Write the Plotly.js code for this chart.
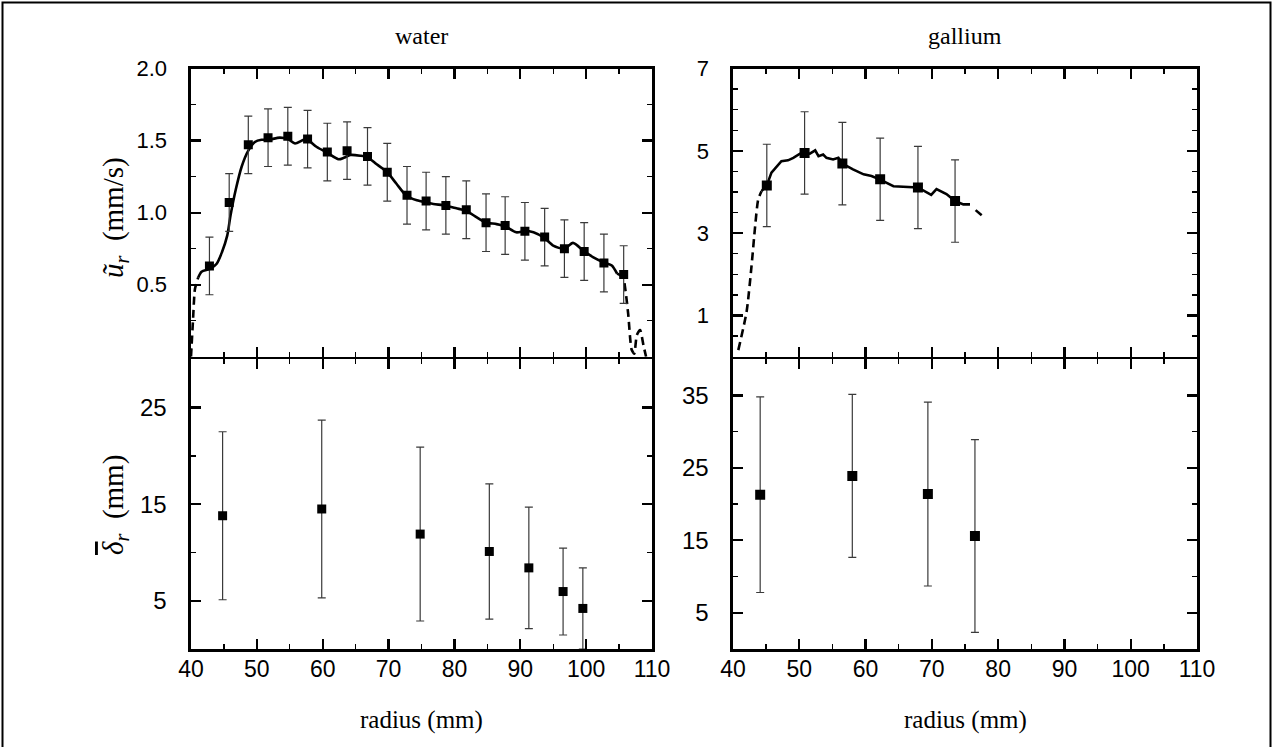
<!DOCTYPE html>
<html><head><meta charset="utf-8">
<script src="https://cdn.plot.ly/plotly-3.0.1.min.js"></script>
<style>html,body{margin:0;padding:0;background:#fff;}#chart{width:1273px;height:747px;}</style>
</head><body><div id="chart"></div>
<script>
// ---- water: radial velocity (top-left) ----
const waterUX = [42.8, 45.8, 48.7, 51.7, 54.7, 57.7, 60.7, 63.7, 66.8, 69.8, 72.8, 75.7, 78.7, 81.8, 84.8, 87.7, 90.7, 93.7, 96.7, 99.7, 102.7, 105.7];
const waterUY = [0.63, 1.07, 1.47, 1.52, 1.53, 1.51, 1.42, 1.43, 1.39, 1.28, 1.12, 1.08, 1.05, 1.02, 0.93, 0.91, 0.87, 0.83, 0.75, 0.73, 0.65, 0.57];
const waterUErr = [0.2, 0.2, 0.2, 0.2, 0.2, 0.2, 0.2, 0.2, 0.2, 0.2, 0.2, 0.2, 0.2, 0.2, 0.2, 0.2, 0.2, 0.2, 0.2, 0.2, 0.2, 0.2];
const waterLineX = [41.1, 41.6, 42.9, 43.9, 44.7, 45.5, 46.0, 46.8, 47.7, 48.7, 49.7, 50.7, 51.7, 53.5, 54.7, 55.8, 57.1, 57.7, 59.1, 60.7, 62.4, 63.2, 64.2, 65.7, 66.8, 68.2, 69.8, 71.2, 72.75, 74.3, 75.7, 76.8, 78.7, 80.3, 81.8, 83.4, 84.75, 86.4, 87.7, 89.4, 90.7, 92.0, 93.7, 95.0, 96.7, 98.0, 99.7, 101.1, 102.7, 103.9, 104.7];
const waterLineY = [0.55, 0.59, 0.61, 0.645, 0.725, 0.84, 0.98, 1.16, 1.32, 1.43, 1.49, 1.505, 1.505, 1.52, 1.51, 1.48, 1.505, 1.505, 1.455, 1.415, 1.37, 1.38, 1.40, 1.395, 1.385, 1.335, 1.28, 1.20, 1.115, 1.085, 1.07, 1.06, 1.048, 1.03, 1.012, 0.967, 0.932, 0.92, 0.905, 0.863, 0.872, 0.863, 0.822, 0.771, 0.748, 0.79, 0.731, 0.69, 0.654, 0.633, 0.576];
const waterDashLX = [40.0, 40.3, 40.6, 41.1];
const waterDashLY = [0.0, 0.25, 0.47, 0.55];
const waterDashRX = [104.7, 105.6, 106.0, 106.4, 106.9, 107.3, 107.7, 108.2, 108.7, 109.1];
const waterDashRY = [0.576, 0.55, 0.45, 0.29, 0.05, 0.02, 0.15, 0.185, 0.08, 0.0];

// ---- gallium: radial velocity (top-right) ----
const galUX = [45.1, 50.8, 56.5, 62.2, 67.9, 73.5];
const galUY = [4.16, 4.95, 4.69, 4.31, 4.11, 3.78];
const galUErr = [1.0, 1.0, 1.0, 1.0, 1.0, 1.0];
const galLineX = [44.3, 45.1, 45.8, 47.3, 48.3, 49.1, 50.1, 50.8, 51.6, 52.4, 52.9, 53.6, 54.1, 55.1, 55.9, 56.5, 58.1, 59.7, 60.9, 62.2, 64.2, 66.2, 67.9, 69.9, 70.7, 72.2, 73.5, 74.75, 75.75];
const galLineY = [4.02, 4.16, 4.47, 4.75, 4.77, 4.83, 4.93, 4.95, 4.93, 5.01, 4.87, 4.91, 4.83, 4.79, 4.83, 4.69, 4.55, 4.43, 4.39, 4.30, 4.14, 4.13, 4.11, 3.93, 4.07, 3.95, 3.78, 3.70, 3.70];
const galDashLX = [40.8, 42.05, 42.8, 43.3, 43.8, 44.3];
const galDashLY = [0.16, 1.09, 2.21, 3.1, 3.82, 4.02];
const galDashRX = [76.6, 77.9];
const galDashRY = [3.56, 3.38];

// ---- boundary layer thickness (bottom) ----
const waterDX = [44.8, 59.85, 74.8, 85.3, 91.3, 96.5, 99.5];
const waterDY = [13.8, 14.5, 11.9, 10.1, 8.4, 5.95, 4.2];
const waterDErr = [8.7, 9.2, 9.0, 7.0, 6.3, 4.5, 4.2];
const galDX = [44.1, 58.0, 69.4, 76.5];
const galDY = [21.3, 23.9, 21.4, 15.6];
const galDErr = [13.5, 11.25, 12.7, 13.3];

// ---- tick labels ----
const xTicks = [40, 50, 60, 70, 80, 90, 100, 110];
const xTickText = ['40', '50', '60', '70', '80', '90', '100', '110'];
const y1Ticks = [0.5, 1.0, 1.5, 2.0];
const y1TickText = ['0.5', '1.0', '1.5', '2.0'];
const y2Ticks = [1, 3, 5, 7];
const y2TickText = ['1', '3', '5', '7'];
const y2UnlabelledTicks = [2, 4, 6];
const y3Ticks = [5, 15, 25];
const y3TickText = ['5', '15', '25'];
const y4Ticks = [5, 15, 25, 35];
const y4TickText = ['5', '15', '25', '35'];

const W = 1273, H = 747;
const px = v => v / W;
const py = v => 1 - v / H;

const serif = 'Liberation Serif';
const sans = 'Liberation Sans';

function solid(x, y, xa, ya, spline) {
  return {x: x, y: y, xaxis: xa, yaxis: ya, mode: 'lines', type: 'scatter', hoverinfo: 'skip',
    line: {color: 'black', width: 2.6, shape: spline ? 'spline' : 'linear', smoothing: 0.7}};
}
function dashed(x, y, xa, ya) {
  return {x: x, y: y, xaxis: xa, yaxis: ya, mode: 'lines', type: 'scatter', hoverinfo: 'skip',
    line: {color: 'black', width: 2.6, dash: '8px,5px', shape: 'spline', smoothing: 0.6}};
}
function pts(x, y, e, xa, ya, sz) {
  return {x: x, y: y, xaxis: xa, yaxis: ya, mode: 'markers', type: 'scatter',
    marker: {symbol: 'square', color: 'black', size: sz},
    error_y: {type: 'data', array: e, visible: true, color: '#3a3a3a', thickness: 1.2, width: 4}};
}

const traces = [
  solid(waterLineX, waterLineY, 'x', 'y', true),
  dashed(waterDashLX, waterDashLY, 'x', 'y'),
  dashed(waterDashRX, waterDashRY, 'x', 'y'),
  pts(waterUX, waterUY, waterUErr, 'x', 'y', 9),
  solid(galLineX, galLineY, 'x2', 'y2', false),
  dashed(galDashLX, galDashLY, 'x2', 'y2'),
  dashed(galDashRX, galDashRY, 'x2', 'y2'),
  pts(galUX, galUY, galUErr, 'x2', 'y2', 10),
  pts(waterDX, waterDY, waterDErr, 'x3', 'y3', 9),
  pts(galDX, galDY, galDErr, 'x4', 'y4', 10)
];

function xAx(domain, anchor, labels) {
  return {domain: domain, anchor: anchor, range: [40, 110], tickmode: 'array', tickvals: xTicks, ticktext: xTickText,
    showticklabels: labels, ticks: 'inside', ticklen: 10, tickwidth: 2.2, tickcolor: 'black',
    minor: {tickmode: 'linear', tick0: 40, dtick: 5, ticks: 'inside', ticklen: 5, tickwidth: 1.4, tickcolor: 'black'},
    showline: true, linecolor: 'black', linewidth: 2.6, mirror: 'ticks', showgrid: false, zeroline: false,
    tickfont: {family: sans, size: 23, color: 'black'}, ticklabelstandoff: -2, fixedrange: true};
}
function yAx(domain, anchor, range, vals, text, mdt, fs) {
  return {domain: domain, anchor: anchor, range: range, tickmode: 'array', tickvals: vals, ticktext: text,
    ticks: 'inside', ticklen: 10, tickwidth: 2.2, tickcolor: 'black',
    minor: {tickmode: 'linear', tick0: 0, dtick: mdt, ticks: 'inside', ticklen: 5, tickwidth: 1.4, tickcolor: 'black'},
    showline: true, linecolor: 'black', linewidth: 2.6, mirror: 'ticks', showgrid: false, zeroline: false,
    tickfont: {family: sans, size: fs, color: 'black'}, ticklabelstandoff: 17, fixedrange: true};
}

const xL = [px(191), px(652)], xR = [px(733), px(1197)];
const yT = [py(356.7), py(68.5)], yB = [py(649), py(359.3)];

function ann(text, x, y, angle, fs) {
  return {text: text, xref: 'paper', yref: 'paper', x: px(x), y: py(y), xanchor: 'center', yanchor: 'middle',
    textangle: angle || 0, showarrow: false, font: {family: serif, size: fs || 24, color: 'black'}};
}

const y2b = {domain: yT, anchor: 'x2', overlaying: 'y2', range: [0, 7], tickmode: 'array', tickvals: y2UnlabelledTicks,
  showticklabels: false, ticks: 'inside', ticklen: 10, tickwidth: 2.2, tickcolor: 'black',
  showline: true, linecolor: 'black', linewidth: 2.6, mirror: 'ticks', showgrid: false, zeroline: false, fixedrange: true};

const layout = {
  width: W, height: H, margin: {l: 0, r: 0, t: 0, b: 0},
  paper_bgcolor: 'white', plot_bgcolor: 'white', showlegend: false,
  xaxis: xAx(xL, 'y', false),
  xaxis2: xAx(xR, 'y2', false),
  xaxis3: xAx(xL, 'y3', true),
  xaxis4: xAx(xR, 'y4', true),
  yaxis: yAx(yT, 'x', [0, 2], y1Ticks, y1TickText, 0.25, 22),
  yaxis2: yAx(yT, 'x2', [0, 7], y2Ticks, y2TickText, 0.5, 22),
  yaxis3: yAx(yB, 'x3', [0, 30], y3Ticks, y3TickText, 5, 24),
  yaxis4: yAx(yB, 'x4', [0, 40], y4Ticks, y4TickText, 5, 24),
  yaxis5: y2b,
  annotations: [
    ann('water', 421, 36),
    ann('gallium', 965, 36),
    ann('radius (mm)', 421, 720, 0, 25),
    ann('radius (mm)', 965, 720, 0, 25),
    ann('<i>ũ</i><sub><i>r</i></sub>  (mm/s)', 115, 218, -90, 29),
    ann('<span style="text-decoration:overline"><i>δ</i></span><sub><i>r</i></sub>  (mm)', 115, 505, -90, 29)
  ],
  shapes: [
    {type: 'rect', xref: 'paper', yref: 'paper', x0: px(2.5), x1: px(1270.5), y0: -0.02, y1: py(2.5), line: {color: 'black', width: 2}}
  ]
};

Plotly.newPlot('chart', traces, layout, {displayModeBar: false, staticPlot: true});
</script></body></html>
